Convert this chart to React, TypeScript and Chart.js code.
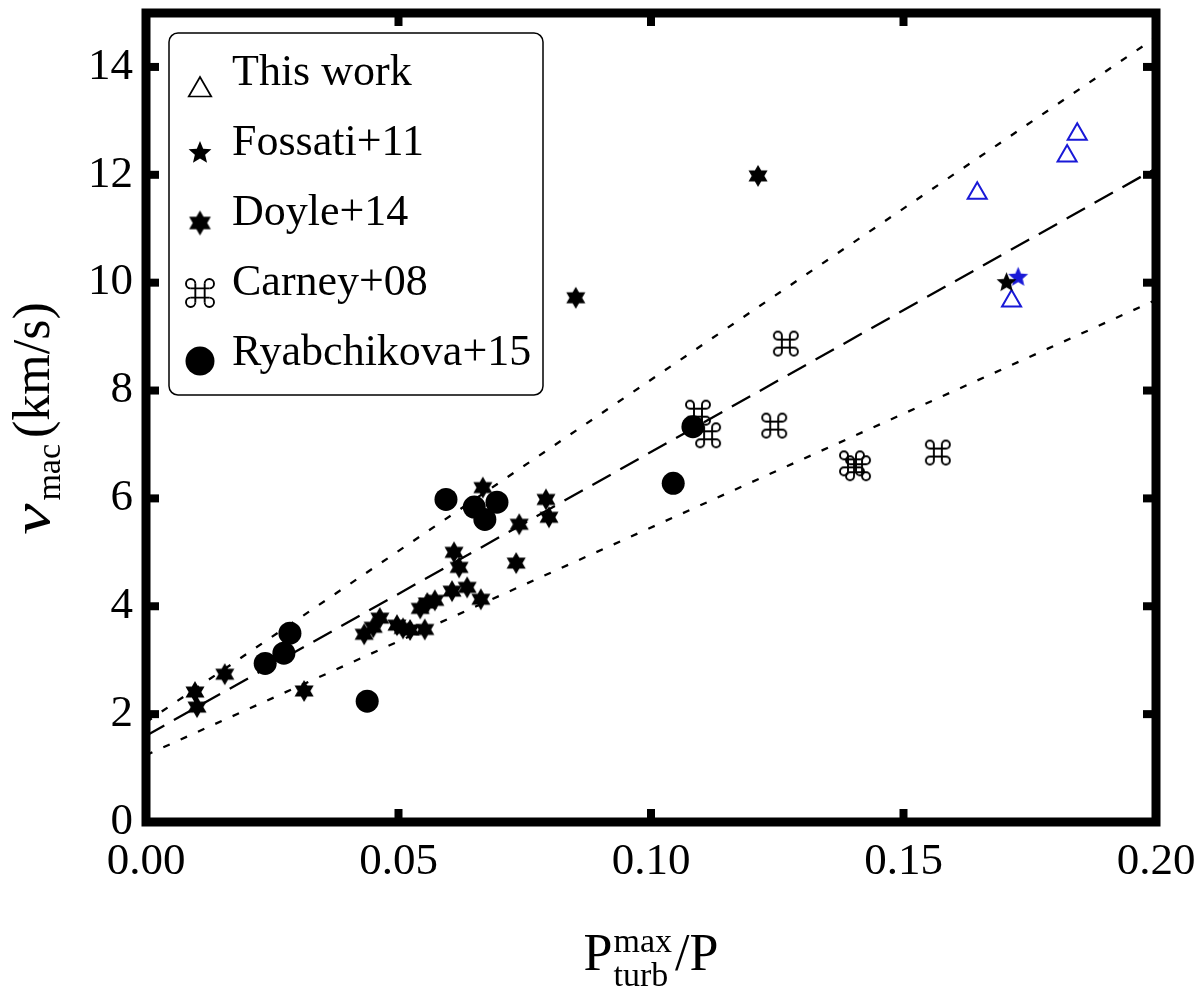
import React, { useEffect, useRef } from "react";
import { Chart, registerables } from "chart.js";

Chart.register(...registerables);

// x = P_turb^max / P, y = v_mac in km/s
const thisWorkX = [0.1844, 0.1824, 0.1646, 0.1714];
const thisWorkY = [12.75, 12.35, 11.66, 9.66];
const thisWorkStarX = [0.1727];
const thisWorkStarY = [10.1];
const fossatiX = [0.1704];
const fossatiY = [10.0];
const doyleX = [
  0.0097, 0.0101, 0.0156, 0.0313, 0.0432, 0.045, 0.0463, 0.0497, 0.0509, 0.0523, 0.0552, 0.0543, 0.0557,
  0.0572, 0.0606, 0.0636, 0.0663, 0.062, 0.061, 0.0667, 0.0733, 0.0739, 0.0792, 0.0798, 0.0851, 0.1212,
];
const doyleY = [
  2.41, 2.13, 2.74, 2.43, 3.48, 3.61, 3.78, 3.65, 3.59, 3.56, 3.57, 3.96, 4.06, 4.11, 4.28, 4.35, 4.13, 4.72, 5.0,
  6.2, 4.8, 5.52, 5.98, 5.65, 9.72, 11.98,
];
const carneyX = [0.1093, 0.1113, 0.1244, 0.1267, 0.1398, 0.141, 0.1568];
const carneyY = [7.59, 7.17, 7.35, 8.87, 6.65, 6.56, 6.85];
const ryabX = [0.0594, 0.065, 0.0695, 0.0671, 0.0285, 0.0273, 0.0236, 0.0438, 0.1083, 0.1044];
const ryabY = [5.98, 5.84, 5.93, 5.61, 3.5, 3.13, 2.94, 2.24, 7.33, 6.28];

// linear fit (dashed) and its two bounds (dotted), ends at the plot edges
const lineX = [0, 0.2];
const fitY = [1.6, 12.12];
const upperY = [1.85, 14.55];
const lowerY = [1.24, 9.68];

const xTickLabels = ["0.00", "0.05", "0.10", "0.15", "0.20"];
const yTickLabels = ["0", "2", "4", "6", "8", "10", "12", "14"];
const legendLabels = ["This work", "Fossati+11", "Doyle+14", "Carney+08", "Ryabchikova+15"];

const SERIF = "'Liberation Serif', 'Times New Roman', serif";
const BLUE = "rgb(25, 25, 215)";

const pts = (xs: number[], ys: number[]) => xs.map((x, i) => ({ x, y: ys[i] }));

function starCanvas(n: number, outer: number, innerRatio: number, color: string) {
  const size = Math.ceil(outer * 2 + 4);
  const c = document.createElement("canvas");
  c.width = size;
  c.height = size;
  const g = c.getContext("2d")!;
  g.translate(size / 2, size / 2);
  g.beginPath();
  for (let i = 0; i < n * 2; i++) {
    const r = i % 2 === 0 ? outer : outer * innerRatio;
    const a = -Math.PI / 2 + (i * Math.PI) / n;
    g.lineTo(r * Math.cos(a), r * Math.sin(a));
  }
  g.closePath();
  g.fillStyle = color;
  g.fill();
  return c;
}

// the "place of interest" sign: a square with a loop at each corner
function cmdCanvas(half: number, color: string, lw: number) {
  const r = half / 3;
  const a = half - 2 * r;
  const size = Math.ceil(half * 2 + lw * 2 + 2);
  const c = document.createElement("canvas");
  c.width = size;
  c.height = size;
  const g = c.getContext("2d")!;
  g.translate(size / 2, size / 2);
  g.strokeStyle = color;
  g.lineWidth = lw;
  g.beginPath();
  g.moveTo(-a, -a - r);
  g.lineTo(-a, a + r);
  g.moveTo(a, -a - r);
  g.lineTo(a, a + r);
  g.moveTo(-a - r, -a);
  g.lineTo(a + r, -a);
  g.moveTo(-a - r, a);
  g.lineTo(a + r, a);
  g.stroke();
  for (const [sx, sy] of [[1, 1], [1, -1], [-1, 1], [-1, -1]]) {
    const phi = Math.atan2(-sy, -sx);
    g.beginPath();
    g.arc(sx * (a + r), sy * (a + r), r, phi + Math.PI / 4, phi + Math.PI / 4 + 1.5 * Math.PI);
    g.stroke();
  }
  return c;
}

const isMultiple = (v: number, step: number) => Math.abs(v / step - Math.round(v / step)) < 1e-6;

export default function App() {
  const canvasRef = useRef<HTMLCanvasElement | null>(null);
  const chartRef = useRef<Chart | null>(null);

  useEffect(() => {
    if (!canvasRef.current) return;
    if (chartRef.current) chartRef.current.destroy();

    const hexPlot = starCanvas(6, 11, 0.577, "#000");
    const starPlot = starCanvas(5, 10.5, 0.45, "#000");
    const starBlue = starCanvas(5, 10.5, 0.45, BLUE);
    const cmdPlot = cmdCanvas(12, "#000", 1.9);

    const hexLegend = starCanvas(6, 12.5, 0.577, "#000");
    const starLegend = starCanvas(5, 12, 0.45, "#000");
    const cmdLegend = cmdCanvas(14, "#000", 1.9);

    const frameAndTicks = {
      id: "frameAndTicks",
      afterDatasetsDraw(chart: Chart) {
        const { ctx, chartArea: a, scales } = chart;
        const xs = scales.x;
        const ys = scales.y;
        ctx.save();
        ctx.strokeStyle = "#000";
        ctx.lineCap = "butt";
        const seg = (x1: number, y1: number, x2: number, y2: number) => {
          ctx.beginPath();
          ctx.moveTo(x1, y1);
          ctx.lineTo(x2, y2);
          ctx.stroke();
        };
        xs.ticks.forEach((t) => {
          const px = xs.getPixelForValue(t.value);
          const major = isMultiple(t.value, 0.05);
          const len = major ? 13 : 8.5;
          ctx.lineWidth = major ? 8 : 6;
          seg(px, a.bottom, px, a.bottom - len);
          seg(px, a.top, px, a.top + len);
        });
        ys.ticks.forEach((t) => {
          const py = ys.getPixelForValue(t.value);
          const major = isMultiple(t.value, 2);
          const len = major ? 13 : 8;
          ctx.lineWidth = major ? 8 : 6;
          seg(a.left, py, a.left + len, py);
          seg(a.right, py, a.right - len, py);
        });
        ctx.lineWidth = 9;
        ctx.strokeRect(a.left, a.top, a.right - a.left, a.bottom - a.top);
        ctx.restore();
      },
    };

    const legendAndTitles = {
      id: "legendAndTitles",
      afterDraw(chart: Chart) {
        const { ctx, chartArea: a } = chart;
        ctx.save();

        // legend box
        const bx = a.left + 23;
        const by = a.top + 20;
        const bw = 374;
        const bh = 362;
        ctx.beginPath();
        ctx.roundRect(bx, by, bw, bh, 9);
        ctx.fillStyle = "#fff";
        ctx.fill();
        ctx.lineWidth = 1.5;
        ctx.strokeStyle = "#000";
        ctx.stroke();

        const sx = bx + 31;
        ctx.font = `44px ${SERIF}`;
        ctx.fillStyle = "#000";
        ctx.textAlign = "left";
        ctx.textBaseline = "alphabetic";
        legendLabels.forEach((label, i) => {
          const base = by + 52 + i * 70;
          ctx.fillText(label, bx + 63, base);
          const cy = base - 2;
          if (i === 0) {
            const r = 13;
            const ty = base + 5;
            ctx.beginPath();
            ctx.moveTo(sx, ty - r);
            ctx.lineTo(sx + r * Math.sin((2 * Math.PI) / 3), ty + r / 2);
            ctx.lineTo(sx - r * Math.sin((2 * Math.PI) / 3), ty + r / 2);
            ctx.closePath();
            ctx.lineWidth = 1.7;
            ctx.stroke();
          } else if (i === 1) {
            ctx.drawImage(starLegend, sx - starLegend.width / 2, cy - starLegend.height / 2);
          } else if (i === 2) {
            ctx.drawImage(hexLegend, sx - hexLegend.width / 2, cy - hexLegend.height / 2);
          } else if (i === 3) {
            ctx.drawImage(cmdLegend, sx - cmdLegend.width / 2, cy - cmdLegend.height / 2);
          } else {
            ctx.beginPath();
            ctx.arc(sx, cy - 2, 14.5, 0, Math.PI * 2);
            ctx.fill();
          }
        });

        // x title: P_turb^max / P
        const big = `52px ${SERIF}`;
        const small = `34px ${SERIF}`;
        ctx.font = big;
        const wP = ctx.measureText("P").width;
        const wSlash = ctx.measureText("/P").width;
        ctx.font = small;
        const wSup = Math.max(ctx.measureText("max").width, ctx.measureText("turb").width);
        const total = wP + 1 + wSup + 3 + wSlash;
        let x0 = (a.left + a.right) / 2 - total / 2;
        const base = 970;
        ctx.font = big;
        ctx.fillText("P", x0, base);
        x0 += wP + 1;
        ctx.font = small;
        ctx.fillText("max", x0, base - 18);
        ctx.fillText("turb", x0, base + 16);
        x0 += wSup + 3;
        ctx.font = big;
        ctx.fillText("/P", x0, base);

        // y title: v_mac (km/s), rotated
        ctx.font = `italic 52px ${SERIF}`;
        const vScale = 1.35;
        const wv = ctx.measureText("v").width * vScale;
        ctx.font = small;
        const wmac = ctx.measureText("mac").width;
        ctx.font = big;
        const wrest = ctx.measureText("(km/s)").width;
        const ytotal = wv + 3 + wmac + 6 + wrest;
        const cyTitle = (a.top + a.bottom) / 2 + 1;
        ctx.translate(49, cyTitle + ytotal / 2);
        ctx.rotate(-Math.PI / 2);
        ctx.save();
        ctx.scale(vScale, 1);
        ctx.font = `italic 52px ${SERIF}`;
        ctx.fillText("v", 0, 0);
        ctx.restore();
        ctx.font = small;
        ctx.fillText("mac", wv + 3, 11);
        ctx.font = big;
        ctx.fillText("(km/s)", wv + 3 + wmac + 6, 0);

        ctx.restore();
      },
    };

    const lineStyle = {
      showLine: true,
      borderColor: "#000",
      borderWidth: 2.3,
      pointRadius: 0,
      pointHoverRadius: 0,
      fill: false,
      order: 10,
    };

    chartRef.current = new Chart(canvasRef.current, {
      type: "scatter",
      data: {
        datasets: [
          { label: "fit", data: pts(lineX, fitY), borderDash: [21, 11], ...lineStyle },
          { label: "upper", data: pts(lineX, upperY), borderDash: [7, 12], ...lineStyle },
          { label: "lower", data: pts(lineX, lowerY), borderDash: [7, 12], ...lineStyle },
          {
            label: "Ryabchikova+15",
            data: pts(ryabX, ryabY),
            pointStyle: "circle",
            pointRadius: 11.5,
            backgroundColor: "#000",
            borderWidth: 0,
          },
          { label: "Doyle+14", data: pts(doyleX, doyleY), pointStyle: hexPlot, pointRadius: 11 },
          { label: "Carney+08", data: pts(carneyX, carneyY), pointStyle: cmdPlot, pointRadius: 12 },
          { label: "Fossati+11", data: pts(fossatiX, fossatiY), pointStyle: starPlot, pointRadius: 11 },
          {
            label: "This work",
            data: pts(thisWorkX, thisWorkY),
            pointStyle: "triangle",
            pointRadius: 11,
            borderColor: BLUE,
            backgroundColor: "rgba(0,0,0,0)",
            borderWidth: 2,
          },
          { label: "This work (star)", data: pts(thisWorkStarX, thisWorkStarY), pointStyle: starBlue, pointRadius: 11 },
        ] as any,
      },
      options: {
        animation: false,
        responsive: true,
        maintainAspectRatio: false,
        layout: { padding: { left: 0, top: 13, right: 44, bottom: 0 } },
        plugins: {
          legend: { display: false },
          tooltip: { enabled: false },
        },
        scales: {
          x: {
            type: "linear",
            min: 0,
            max: 0.2,
            grid: { display: false, drawTicks: false },
            border: { display: false },
            ticks: {
              stepSize: 0.01,
              autoSkip: false,
              maxRotation: 0,
              padding: 13,
              color: "#000",
              font: { family: SERIF, size: 45 },
              callback: (v: any) => {
                const n = Number(v);
                return isMultiple(n, 0.05) ? xTickLabels[Math.round(n / 0.05)] ?? null : null;
              },
            },
            afterFit: (s: any) => {
              s.height = 175;
              s.paddingLeft = 0;
              s.paddingRight = 0;
            },
          },
          y: {
            type: "linear",
            min: 0,
            max: 15,
            grid: { display: false, drawTicks: false },
            border: { display: false },
            ticks: {
              stepSize: 0.5,
              autoSkip: false,
              maxTicksLimit: 100,
              padding: 13,
              color: "#000",
              font: { family: SERIF, size: 45 },
              callback: (v: any) => {
                const n = Number(v);
                return isMultiple(n, 2) ? yTickLabels[Math.round(n / 2)] ?? null : null;
              },
            },
            afterFit: (s: any) => {
              s.width = 146;
              s.paddingTop = 0;
              s.paddingBottom = 0;
            },
          },
        },
      },
      plugins: [frameAndTicks, legendAndTitles],
    });

    return () => {
      if (chartRef.current) {
        chartRef.current.destroy();
        chartRef.current = null;
      }
    };
  }, []);

  return (
    <div style={{ position: "absolute", left: 0, top: 0, width: 1200, height: 997, background: "#fff" }}>
      <canvas ref={canvasRef}></canvas>
    </div>
  );
}
